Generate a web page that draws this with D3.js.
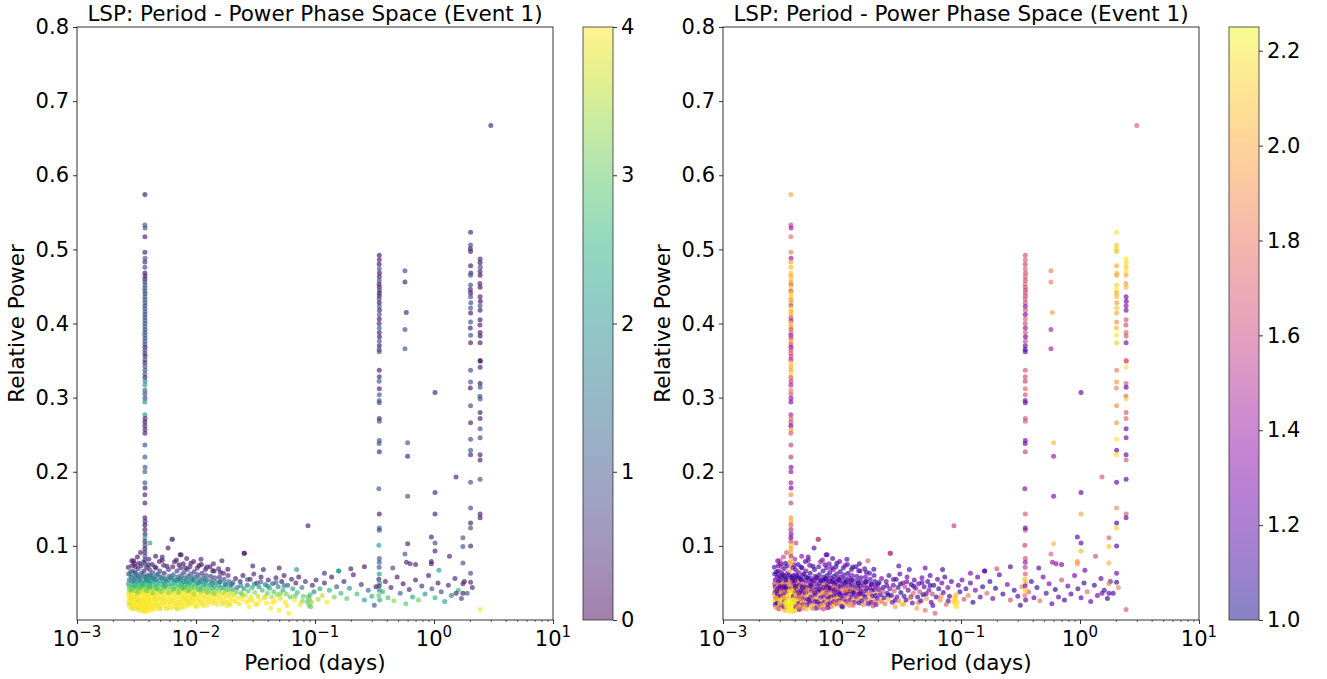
<!DOCTYPE html>
<html><head><meta charset="utf-8">
<script src="https://cdn.jsdelivr.net/npm/d3@7"></script>
<style>body{margin:0;background:#fff;}svg{display:block;font-family:"DejaVu Sans",sans-serif;}</style>
</head><body>
<svg id="c" width="1327" height="679"></svg>
<script>
// ---- DATA: [period (days), relative power, colour value left (0-4), colour value right (1-2.25)] ----
const clusterDense = [
[0.00270,0.071,0.3,1.18],[0.00272,0.062,0.9,1.10],[0.00275,0.054,1.4,1.22],[0.00271,0.049,2.3,1.65],[0.00274,0.045,2.9,1.12],[0.00276,0.041,3.3,1.95],[0.00273,0.037,3.7,1.28],[0.00270,0.033,4.0,2.05],[0.00277,0.029,3.9,1.75],[0.00272,0.025,4.0,2.15],[0.00275,0.021,3.6,1.15],[0.00278,0.017,4.0,1.90],
[0.00288,0.080,0.2,1.25],[0.00291,0.066,0.6,1.08],[0.00285,0.058,1.1,1.30],[0.00293,0.052,1.8,1.14],[0.00289,0.047,2.6,1.80],[0.00296,0.043,3.0,1.20],[0.00290,0.039,3.5,2.00],[0.00287,0.035,3.8,1.10],[0.00294,0.031,4.0,1.70],[0.00292,0.027,4.0,2.20],[0.00286,0.023,3.9,1.05],[0.00298,0.019,4.0,2.10],[0.00295,0.015,3.7,1.60],
[0.00305,0.076,0.4,1.15],[0.00308,0.064,0.2,1.35],[0.00311,0.057,1.0,1.05],[0.00303,0.053,1.6,1.20],[0.00309,0.048,2.4,1.90],[0.00314,0.044,2.8,1.12],[0.00306,0.040,3.4,1.55],[0.00312,0.036,3.9,2.05],[0.00304,0.032,4.0,1.18],[0.00310,0.028,3.8,2.20],[0.00316,0.024,4.0,1.85],[0.00307,0.020,4.0,1.25],[0.00313,0.016,3.9,2.10],
[0.00322,0.085,0.2,1.60],[0.00326,0.069,0.7,1.22],[0.00329,0.059,1.2,1.10],[0.00324,0.051,2.0,1.75],[0.00331,0.046,2.7,1.08],[0.00327,0.042,3.2,1.30],[0.00333,0.038,3.6,1.95],[0.00323,0.034,4.0,1.15],[0.00330,0.030,4.0,2.15],[0.00328,0.026,3.7,1.65],[0.00335,0.022,4.0,2.25],[0.00325,0.018,4.0,1.20],[0.00332,0.013,3.8,2.00],
[0.00342,0.091,0.3,1.70],[0.00345,0.073,0.5,1.12],[0.00348,0.063,1.1,1.28],[0.00341,0.056,1.5,1.05],[0.00350,0.050,2.2,1.85],[0.00346,0.045,3.0,1.20],[0.00352,0.041,3.5,2.10],[0.00343,0.037,3.8,1.40],[0.00349,0.033,4.0,2.20],[0.00355,0.029,4.0,1.95],[0.00344,0.025,4.0,2.25],[0.00351,0.021,3.9,2.15],[0.00347,0.017,4.0,2.05],[0.00353,0.012,4.0,2.20],
[0.00362,0.078,0.8,1.90],[0.00366,0.066,0.4,2.00],[0.00373,0.058,1.3,1.25],[0.00368,0.052,2.1,1.70],[0.00364,0.047,2.9,2.10],[0.00375,0.043,3.3,1.15],[0.00361,0.039,3.7,2.20],[0.00370,0.035,4.0,2.25],[0.00377,0.031,4.0,2.15],[0.00363,0.027,4.0,2.25],[0.00372,0.023,4.0,2.20],[0.00367,0.019,4.0,2.25],[0.00376,0.015,3.9,2.10],[0.00369,0.011,4.0,2.20],
[0.00385,0.071,0.3,1.20],[0.00389,0.060,1.0,1.10],[0.00382,0.054,1.7,1.55],[0.00392,0.049,2.5,1.18],[0.00386,0.044,3.1,1.95],[0.00395,0.040,3.6,2.15],[0.00383,0.036,4.0,2.25],[0.00390,0.032,4.0,1.30],[0.00397,0.028,4.0,2.20],[0.00384,0.024,4.0,2.25],[0.00393,0.020,3.8,2.15],[0.00388,0.016,4.0,2.25],[0.00396,0.012,4.0,2.05],
[0.00402,0.082,0.4,1.45],[0.00406,0.068,0.6,1.08],[0.00410,0.061,1.2,1.25],[0.00404,0.055,1.9,1.12],[0.00412,0.050,2.4,1.80],[0.00408,0.046,2.9,1.20],[0.00415,0.042,3.4,2.00],[0.00403,0.038,3.8,1.10],[0.00411,0.034,4.0,2.15],[0.00418,0.030,4.0,1.65],[0.00405,0.026,4.0,2.25],[0.00414,0.022,3.9,2.10],[0.00409,0.018,4.0,1.22],[0.00417,0.014,4.0,2.20],
[0.00428,0.075,0.3,1.15],[0.00433,0.064,0.9,1.30],[0.00437,0.057,1.4,1.06],[0.00430,0.052,2.2,1.75],[0.00440,0.047,2.7,1.10],[0.00435,0.043,3.2,1.90],[0.00443,0.039,3.7,1.20],[0.00431,0.035,3.9,2.05],[0.00439,0.031,4.0,1.60],[0.00446,0.027,4.0,2.20],[0.00434,0.023,4.0,1.14],[0.00442,0.019,3.9,1.95],[0.00438,0.014,4.0,1.25],
[0.00458,0.086,0.2,1.35],[0.00462,0.070,0.5,1.12],[0.00466,0.060,1.1,1.22],[0.00460,0.054,1.6,1.05],[0.00470,0.049,2.3,1.70],[0.00464,0.045,2.8,1.18],[0.00473,0.041,3.3,2.00],[0.00461,0.037,3.8,1.10],[0.00469,0.033,4.0,1.85],[0.00476,0.029,4.0,1.25],[0.00463,0.025,4.0,2.15],[0.00472,0.021,3.8,1.30],[0.00467,0.016,4.0,1.80],
[0.00492,0.079,0.3,1.10],[0.00497,0.066,0.8,1.28],[0.00502,0.058,1.3,1.08],[0.00495,0.053,2.0,1.20],[0.00506,0.048,2.6,1.65],[0.00499,0.044,3.1,1.12],[0.00510,0.040,3.5,1.95],[0.00494,0.036,4.0,1.15],[0.00504,0.032,4.0,2.10],[0.00513,0.028,3.9,1.30],[0.00498,0.024,4.0,1.75],[0.00508,0.020,4.0,1.10],[0.00501,0.015,3.7,2.05],
[0.00535,0.074,0.4,1.25],[0.00540,0.063,0.3,1.05],[0.00546,0.056,1.0,1.18],[0.00538,0.051,1.8,1.32],[0.00550,0.047,2.5,1.10],[0.00543,0.043,3.0,1.85],[0.00555,0.039,3.6,1.20],[0.00537,0.035,3.9,2.00],[0.00548,0.031,4.0,1.12],[0.00558,0.027,4.0,1.70],[0.00541,0.023,3.8,1.25],[0.00552,0.019,4.0,2.15],
[0.00582,0.097,0.2,1.20],[0.00588,0.068,0.6,1.10],[0.00594,0.059,1.2,1.30],[0.00585,0.054,1.7,1.08],[0.00598,0.049,2.4,1.22],[0.00590,0.045,2.9,1.60],[0.00603,0.041,3.4,1.15],[0.00587,0.037,3.8,1.90],[0.00596,0.033,4.0,1.28],[0.00607,0.029,4.0,2.05],[0.00592,0.025,4.0,1.18],[0.00600,0.021,3.9,1.80],[0.00605,0.016,4.0,1.12],
[0.00632,0.109,0.9,1.12],[0.00638,0.072,0.3,1.22],[0.00644,0.061,0.9,1.06],[0.00635,0.055,1.5,1.35],[0.00650,0.050,2.2,1.12],[0.00641,0.046,2.7,1.20],[0.00656,0.042,3.2,1.75],[0.00637,0.038,3.7,1.10],[0.00647,0.034,4.0,1.95],[0.00660,0.030,4.0,1.25],[0.00643,0.026,3.9,2.10],[0.00653,0.022,4.0,1.15],[0.00648,0.017,4.0,1.65],
[0.00685,0.081,0.2,1.30],[0.00692,0.066,0.7,1.10],[0.00700,0.058,1.2,1.20],[0.00690,0.053,1.9,1.05],[0.00708,0.048,2.5,1.70],[0.00697,0.044,3.0,1.15],[0.00715,0.040,3.5,1.28],[0.00694,0.036,3.9,2.00],[0.00705,0.032,4.0,1.12],[0.00720,0.028,4.0,1.85],[0.00702,0.024,3.8,1.22],[0.00712,0.020,4.0,2.10],[0.00698,0.015,3.7,1.60],
[0.00735,0.088,0.3,1.10],[0.00742,0.070,0.5,1.25],[0.00750,0.060,1.0,1.08],[0.00738,0.054,1.6,1.18],[0.00757,0.049,2.3,1.32],[0.00746,0.045,2.9,1.10],[0.00764,0.041,3.4,1.90],[0.00740,0.037,3.8,1.20],[0.00753,0.033,4.0,1.70],[0.00768,0.029,4.0,1.12],[0.00748,0.025,4.0,2.05],[0.00760,0.021,3.9,1.26],
[0.00780,0.076,0.2,1.20],[0.00790,0.064,0.8,1.05],[0.00798,0.057,1.3,1.22],[0.00785,0.052,2.0,1.12],[0.00806,0.047,2.6,1.75],[0.00794,0.043,3.1,1.18],[0.00815,0.039,3.6,1.30],[0.00788,0.035,4.0,1.95],[0.00802,0.031,4.0,1.10],[0.00820,0.027,3.8,2.15],[0.00796,0.023,4.0,1.24],[0.00810,0.018,4.0,1.80],
[0.00835,0.083,0.3,1.15],[0.00845,0.068,0.6,1.28],[0.00855,0.059,1.1,1.06],[0.00840,0.054,1.7,1.20],[0.00862,0.049,2.4,1.12],[0.00850,0.045,2.9,1.65],[0.00870,0.041,3.5,1.22],[0.00842,0.037,3.9,2.00],[0.00858,0.033,4.0,1.15],[0.00875,0.029,4.0,1.90],[0.00852,0.025,3.9,1.30],[0.00866,0.020,4.0,2.10],
[0.00890,0.072,0.4,1.10],[0.00902,0.062,0.9,1.20],[0.00912,0.056,1.4,1.32],[0.00895,0.051,2.1,1.08],[0.00920,0.046,2.7,1.18],[0.00906,0.042,3.2,1.80],[0.00930,0.038,3.7,1.12],[0.00898,0.034,4.0,1.25],[0.00916,0.030,4.0,2.05],[0.00935,0.026,3.8,1.15],[0.00910,0.022,4.0,1.70],
[0.00955,0.079,0.2,1.25],[0.00965,0.065,0.7,1.10],[0.00978,0.058,1.2,1.18],[0.00960,0.053,1.9,1.05],[0.00988,0.048,2.5,1.30],[0.00972,0.044,3.0,1.12],[0.00998,0.040,3.5,1.95],[0.00962,0.036,3.9,1.20],[0.00982,0.032,4.0,1.60],[0.01005,0.028,4.0,1.15],[0.00975,0.024,4.0,2.10],[0.00992,0.019,3.9,1.28],
[0.01025,0.070,0.3,1.12],[0.01040,0.061,0.8,1.22],[0.01055,0.055,1.3,1.08],[0.01032,0.050,2.0,1.35],[0.01065,0.045,2.6,1.15],[0.01048,0.041,3.1,1.85],[0.01078,0.037,3.6,1.10],[0.01036,0.033,4.0,1.20],[0.01060,0.029,4.0,1.75],[0.01085,0.025,3.8,1.25],[0.01050,0.021,4.0,2.00],
[0.01110,0.075,0.2,1.20],[0.01125,0.063,0.6,1.05],[0.01140,0.057,1.1,1.30],[0.01118,0.052,1.8,1.12],[0.01155,0.047,2.4,1.18],[0.01132,0.043,2.9,1.65],[0.01168,0.039,3.4,1.10],[0.01120,0.035,3.9,1.25],[0.01148,0.031,4.0,1.90],[0.01175,0.027,4.0,1.15],[0.01138,0.023,3.9,1.80],
[0.01200,0.068,0.4,1.15],[0.01218,0.060,0.9,1.28],[0.01235,0.054,1.5,1.06],[0.01210,0.049,2.2,1.20],[0.01250,0.044,2.8,1.12],[0.01228,0.040,3.3,1.95],[0.01265,0.036,3.8,1.22],[0.01215,0.032,4.0,1.10],[0.01245,0.028,4.0,2.05],[0.01275,0.024,3.9,1.30],[0.01238,0.020,4.0,1.70],
[0.01310,0.072,0.3,1.10],[0.01330,0.059,0.7,1.20],[0.01350,0.053,1.2,1.15],[0.01320,0.048,2.0,1.32],[0.01365,0.043,2.6,1.08],[0.01340,0.039,3.2,1.75],[0.01380,0.035,3.7,1.18],[0.01325,0.031,4.0,1.25],[0.01358,0.027,4.0,1.90],[0.01390,0.023,3.8,1.12],
[0.01420,0.066,0.2,1.22],[0.01440,0.057,0.9,1.10],[0.01462,0.051,1.6,1.28],[0.01430,0.046,2.3,1.05],[0.01480,0.042,2.9,1.60],[0.01452,0.038,3.4,1.15],[0.01500,0.034,3.9,1.20],[0.01435,0.030,4.0,2.00],[0.01470,0.026,4.0,1.12],[0.01510,0.021,3.9,1.85],
[0.01550,0.069,0.4,1.15],[0.01575,0.058,0.6,1.25],[0.01600,0.052,1.3,1.08],[0.01560,0.047,2.1,1.20],[0.01620,0.043,2.7,1.35],[0.01590,0.039,3.3,1.10],[0.01645,0.035,3.8,1.95],[0.01570,0.031,4.0,1.18],[0.01610,0.027,4.0,1.70],[0.01660,0.022,3.8,1.12],
[0.01700,0.063,0.3,1.10],[0.01725,0.055,1.0,1.22],[0.01750,0.049,1.8,1.05],[0.01710,0.044,2.5,1.30],[0.01775,0.040,3.1,1.15],[0.01740,0.036,3.6,1.80],[0.01800,0.032,4.0,1.20],[0.01720,0.028,4.0,2.05],[0.01765,0.024,3.9,1.12],[0.01820,0.019,4.0,1.65],
[0.01860,0.060,0.5,1.18],[0.01890,0.052,1.2,1.08],[0.01920,0.046,2.2,1.25],[0.01875,0.041,2.9,1.12],[0.01950,0.037,3.5,1.90],[0.01905,0.033,3.9,1.20],[0.01980,0.029,4.0,1.10],[0.01880,0.025,4.0,1.75],[0.01935,0.021,3.8,1.30]
];
const clusterExtra = [
[0.00280,0.0645,1.6,1.08],[0.00297,0.0595,2.0,1.12],[0.00318,0.0615,1.5,1.05],[0.00336,0.0535,1.9,1.10],[0.00357,0.0605,1.7,1.20],[0.00380,0.0565,2.0,1.08],[0.00399,0.0525,2.2,1.15],[0.00421,0.0585,1.6,1.06],[0.00449,0.0545,1.9,1.12],[0.00479,0.0625,1.4,1.10],[0.00517,0.0565,1.8,1.05],[0.00560,0.0525,2.1,1.18],[0.00612,0.0575,1.7,1.08],[0.00668,0.0535,2.0,1.12],[0.00725,0.0555,1.8,1.06],[0.00825,0.0515,2.2,1.10],[0.00940,0.0545,1.9,1.15],[0.01070,0.0505,2.1,1.08],[0.01190,0.0535,1.7,1.12],[0.01370,0.0495,2.2,1.05],
[0.00283,0.0285,3.9,2.00],[0.00301,0.0225,4.0,2.15],[0.00319,0.0305,4.0,1.95],[0.00338,0.0195,4.0,2.20],[0.00358,0.0245,4.0,2.25],[0.00365,0.0165,4.0,2.25],[0.00379,0.0205,4.0,2.20],[0.00374,0.0135,4.0,2.25],[0.00392,0.0265,4.0,2.10],[0.00424,0.0175,4.0,1.90],[0.00455,0.0285,3.9,1.70],[0.00486,0.0185,4.0,2.05],[0.00527,0.0265,4.0,1.20],[0.00566,0.0155,3.8,1.85],[0.00620,0.0245,4.0,1.15],[0.00675,0.0195,4.0,2.00],[0.00760,0.0165,3.9,1.25],[0.00880,0.0225,4.0,1.80],[0.01010,0.0175,4.0,1.12],[0.01150,0.0195,3.9,1.95],
[0.00284,0.0405,3.0,1.10],[0.00302,0.0455,2.8,1.20],[0.00321,0.0375,3.2,1.65],[0.00339,0.0435,2.9,1.08],[0.00359,0.0475,2.6,1.90],[0.00384,0.0395,3.1,2.10],[0.00407,0.0445,2.7,1.15],[0.00432,0.0365,3.3,1.25],[0.00468,0.0425,2.9,1.10],[0.00505,0.0385,3.2,1.70],[0.00545,0.0455,2.6,1.08],[0.00590,0.0365,3.4,1.20],[0.00646,0.0415,3.0,1.12],[0.00710,0.0375,3.3,1.95],[0.00775,0.0435,2.8,1.10],[0.00860,0.0395,3.1,1.22],[0.00960,0.0345,3.5,1.15],[0.01090,0.0405,3.0,1.85],[0.01240,0.0375,3.2,1.10],[0.01420,0.0355,3.4,1.25],
[0.00292,0.0735,0.3,1.20],[0.00333,0.0765,0.2,1.10],[0.00398,0.0745,0.3,1.35],[0.00452,0.0715,0.4,1.15],[0.00520,0.0805,0.2,1.25],[0.00570,0.0725,0.3,1.08],[0.00660,0.0785,0.3,1.40],[0.00720,0.0745,0.2,1.12],[0.00815,0.0705,0.4,1.20],[0.00905,0.0765,0.3,1.05],[0.01060,0.0735,0.2,1.30],[0.01230,0.0715,0.3,1.10],[0.01380,0.0665,0.4,1.22],[0.01600,0.0645,0.3,1.15],[0.01850,0.0685,0.2,1.08],
[0.01580,0.0515,1.5,1.10],[0.01780,0.0475,1.8,1.18],[0.02050,0.0505,1.4,1.05],[0.02380,0.0465,1.9,1.12],[0.02700,0.0545,1.2,1.20],[0.03100,0.0485,1.6,1.08],[0.03500,0.0515,1.3,1.25],[0.04000,0.0455,1.9,1.10],[0.04700,0.0505,1.5,1.15],[0.05500,0.0465,1.7,1.05],
[0.02150,0.0245,4.0,1.85],[0.02450,0.0335,3.5,1.12],[0.02800,0.0265,3.9,1.20],[0.03300,0.0215,4.0,2.00],[0.03800,0.0315,3.6,1.10],[0.04400,0.0235,4.0,1.75],[0.05100,0.0355,3.2,1.22],[0.05800,0.0195,3.9,1.15],[0.06800,0.0325,3.0,1.90],[0.07800,0.0255,3.3,1.12]
];
const clusterTail = [
[0.0200,0.048,1.0,1.15],[0.0205,0.041,2.6,1.22],[0.0210,0.034,3.6,1.10],[0.0208,0.026,4.0,1.95],[0.0215,0.056,0.3,1.28],[0.0220,0.038,3.2,1.65],[0.0225,0.030,4.0,1.12],[0.0222,0.044,1.5,1.05],[0.0230,0.022,3.9,1.80],[0.0235,0.052,0.4,1.20],
[0.0240,0.036,3.0,1.10],[0.0245,0.028,4.0,2.05],[0.0248,0.060,0.2,1.15],[0.0252,0.042,2.2,1.30],[0.0255,0.090,0.2,1.55],[0.0260,0.033,3.7,1.08],[0.0265,0.024,4.0,1.25],[0.0270,0.047,1.2,1.18],[0.0275,0.039,2.9,1.70],[0.0280,0.018,4.0,1.95],
[0.0285,0.055,0.3,1.10],[0.0290,0.031,3.8,1.22],[0.0296,0.044,2.5,1.12],[0.0300,0.026,4.0,1.85],[0.0306,0.062,0.4,1.20],[0.0312,0.037,3.3,1.05],[0.0318,0.021,4.0,2.10],[0.0325,0.050,0.8,1.30],[0.0332,0.032,3.6,1.15],[0.0338,0.045,2.0,1.60],
[0.0345,0.027,4.0,1.10],[0.0352,0.058,0.2,1.25],[0.0360,0.040,2.8,1.18],[0.0368,0.068,0.3,1.12],[0.0375,0.030,3.9,1.90],[0.0382,0.048,1.5,1.08],[0.0390,0.023,4.0,1.22],[0.0398,0.036,3.1,1.75],[0.0405,0.054,0.3,1.15],[0.0415,0.043,2.4,1.30],
[0.0425,0.016,4.0,2.00],[0.0432,0.031,3.5,1.10],[0.0440,0.049,1.0,1.20],[0.0450,0.038,2.9,1.65],[0.0460,0.026,4.0,1.12],[0.0470,0.057,0.4,1.25],[0.0480,0.034,3.3,1.05],[0.0490,0.045,1.8,1.18],[0.0500,0.013,4.0,1.80],[0.0512,0.029,3.8,1.95],
[0.0525,0.052,0.2,1.10],[0.0538,0.040,2.6,1.30],[0.0550,0.060,0.3,1.15],[0.0562,0.024,4.0,1.22],[0.0575,0.035,3.2,1.60],[0.0590,0.047,1.2,1.08],[0.0605,0.009,4.0,1.70],[0.0620,0.031,3.0,1.12],[0.0635,0.055,0.4,1.20],[0.0650,0.042,2.3,1.05],
[0.0670,0.027,4.0,1.90],[0.0690,0.050,0.3,1.25],[0.0710,0.037,2.8,1.18],[0.0730,0.058,0.2,1.10],[0.0750,0.021,3.9,1.75],[0.0775,0.044,1.6,1.30],[0.0800,0.032,3.1,1.12],[0.0830,0.052,0.5,1.15],[0.0860,0.025,3.0,2.10],[0.0880,0.031,2.9,2.15],
[0.0890,0.020,3.1,2.20],[0.0900,0.028,3.2,2.10],[0.0910,0.034,2.8,2.05],[0.0920,0.018,3.0,2.20],[0.0930,0.024,3.3,2.15],[0.0950,0.047,0.3,1.20],[0.0980,0.038,1.9,1.10],[0.1020,0.054,0.4,1.25],[0.1060,0.028,3.5,1.65],[0.1100,0.042,2.4,1.12],
[0.1150,0.033,3.6,1.85],[0.1200,0.050,0.3,1.18],[0.1260,0.024,4.0,1.08],[0.1320,0.040,2.6,1.30],[0.1380,0.058,0.2,1.15],[0.1450,0.031,3.2,1.22],[0.1520,0.045,1.1,1.10],[0.1580,0.066,2.2,1.20],[0.1650,0.036,2.7,1.75],[0.1750,0.052,0.4,1.12],
[0.1850,0.029,3.0,1.25],[0.1950,0.043,2.1,1.05],[0.2100,0.061,0.3,1.18],[0.2250,0.035,2.8,1.10],[0.2450,0.048,0.5,1.30],[0.2600,0.027,2.2,1.65],[0.2800,0.040,1.4,1.12],[0.3000,0.032,2.5,1.20],[0.3150,0.020,1.0,1.08],[0.3250,0.045,0.3,1.90],
[0.3700,0.038,2.6,1.70],[0.3900,0.052,0.3,1.15],[0.4100,0.030,2.8,1.22],[0.4350,0.044,0.4,1.10],[0.4600,0.026,3.3,1.80],[0.4900,0.058,0.3,1.25],[0.5200,0.036,1.2,1.12],[0.5500,0.049,0.2,1.30],[0.5800,0.022,2.9,1.18],[0.6200,0.041,0.4,1.05],
[0.6600,0.031,2.4,1.20],[0.7000,0.054,0.3,1.65],[0.7400,0.027,3.1,1.10],[0.7900,0.046,0.5,1.25],[0.8400,0.035,2.2,1.15],[0.9000,0.060,0.3,1.30],[0.9600,0.042,1.0,1.12],[1.0200,0.030,2.6,1.22],[1.0800,0.050,0.3,1.08],[1.1500,0.038,0.9,1.75],
[1.2300,0.025,2.3,1.18],[1.3200,0.047,0.4,1.10],[1.4000,0.033,1.5,1.25],[1.5000,0.056,0.3,1.20],[1.6000,0.040,2.5,1.12],[1.7000,0.029,0.8,1.05],[1.8000,0.052,0.2,1.30],[1.9000,0.036,1.2,1.15],[2.1000,0.044,0.4,1.85],[2.4400,0.014,4.0,1.70]
];
const spikeShort = [
[0.00372,0.574,0.2,2.00],[0.00372,0.533,1.0,1.60],[0.00373,0.529,1.1,1.40],[0.00372,0.517,0.3,1.80],[0.00372,0.496,0.3,1.85],[0.00373,0.488,1.0,1.40],[0.00372,0.483,0.4,2.00],[0.00372,0.476,0.9,2.05],
[0.00372,0.468,0.2,2.10],[0.00373,0.464,0.3,1.95],[0.00372,0.460,0.3,2.15],[0.00372,0.456,0.9,2.00],[0.00373,0.452,1.0,1.70],[0.00372,0.448,1.1,2.20],[0.00372,0.444,1.0,1.65],[0.00373,0.440,0.9,2.10],[0.00372,0.436,1.2,2.15],[0.00372,0.432,1.0,1.90],[0.00373,0.428,1.1,2.00],[0.00372,0.424,0.9,1.60],[0.00372,0.420,1.0,2.20],[0.00373,0.416,1.2,1.95],[0.00372,0.412,1.0,2.10],[0.00372,0.408,0.9,1.70],[0.00373,0.404,1.1,1.45],[0.00372,0.400,1.0,2.05],[0.00372,0.396,1.2,1.95],[0.00373,0.392,1.0,1.65],[0.00372,0.388,0.9,1.85],[0.00372,0.384,1.1,1.40],[0.00373,0.380,1.0,1.60],[0.00372,0.376,1.2,2.00],[0.00372,0.372,1.0,1.70],[0.00373,0.368,0.3,1.35],[0.00372,0.364,1.1,1.65],[0.00372,0.360,0.9,1.75],[0.00373,0.356,0.3,1.60],[0.00372,0.351,1.0,1.40],
[0.00372,0.347,0.4,2.10],[0.00372,0.342,1.1,2.00],[0.00373,0.337,0.9,1.95],[0.00372,0.332,1.2,2.15],[0.00372,0.327,0.3,1.70],[0.00373,0.322,2.0,1.60],[0.00372,0.317,2.2,1.45],
[0.00372,0.310,1.1,1.85],[0.00372,0.305,1.0,1.70],[0.00373,0.299,0.9,1.40],[0.00372,0.294,2.0,1.35],
[0.00372,0.277,2.1,1.45],[0.00373,0.272,0.3,1.75],[0.00372,0.267,0.2,1.65],[0.00372,0.262,0.3,1.25],[0.00373,0.257,0.4,1.95],[0.00372,0.252,0.3,1.70],
[0.00372,0.236,1.0,1.60],[0.00372,0.220,1.1,1.55],[0.00373,0.206,1.0,1.35],[0.00372,0.200,1.2,1.40],[0.00372,0.185,1.0,1.45],[0.00373,0.178,0.3,1.30],[0.00372,0.169,0.3,1.90],[0.00372,0.158,0.3,1.60],
[0.00372,0.138,0.3,1.95],[0.00373,0.133,0.4,2.00],[0.00372,0.128,0.2,1.70],[0.00372,0.122,0.3,1.50],[0.00373,0.116,0.4,1.35],[0.00372,0.111,2.1,1.25],[0.00372,0.106,0.3,1.60],[0.00373,0.101,0.9,2.05],[0.00372,0.096,0.3,1.95],[0.00372,0.091,0.4,2.00],[0.00373,0.086,1.0,1.45],[0.00372,0.081,0.4,2.10],[0.00372,0.076,1.1,2.00]
];
const lineThirdDay = [
[0.347,0.492,0.2,1.65],[0.347,0.486,0.3,1.70],[0.346,0.480,0.2,1.60],[0.347,0.474,1.0,1.75],[0.348,0.468,0.2,1.65],[0.347,0.463,0.3,1.70],[0.347,0.458,0.9,1.62],[0.346,0.453,0.2,1.75],[0.347,0.449,0.3,1.68],[0.348,0.445,1.0,1.60],[0.347,0.441,0.2,1.72],[0.347,0.437,0.3,1.65],[0.346,0.433,1.0,1.70],[0.347,0.428,0.2,1.62],[0.347,0.423,1.1,1.35],[0.348,0.418,0.3,1.68],[0.347,0.412,1.0,1.30],[0.347,0.406,0.2,1.72],[0.346,0.400,0.3,1.65],[0.347,0.394,1.0,1.40],[0.347,0.388,0.3,1.70],[0.348,0.382,0.2,1.30],[0.347,0.376,1.0,1.62],[0.347,0.370,0.2,1.25],[0.346,0.365,1.0,1.10],[0.347,0.362,0.9,1.20],
[0.347,0.337,0.3,1.70],[0.347,0.328,0.4,1.65],[0.346,0.322,1.0,1.60],[0.347,0.312,0.3,1.72],[0.347,0.304,1.0,1.68],[0.346,0.296,1.1,1.30],[0.347,0.293,0.9,1.25],
[0.347,0.272,0.3,1.65],[0.347,0.268,1.0,1.70],[0.347,0.242,1.0,1.30],[0.346,0.238,0.9,1.25],[0.347,0.227,0.3,1.60],
[0.344,0.177,1.0,1.35],[0.347,0.143,0.3,1.70],[0.347,0.121,0.9,1.65],[0.344,0.101,2.3,1.60],[0.347,0.083,1.0,1.65],[0.347,0.078,1.1,1.40],[0.346,0.071,1.0,1.55],[0.347,0.062,2.2,1.70],[0.344,0.055,0.3,2.05],[0.349,0.050,2.4,1.95],[0.346,0.046,0.3,1.30],[0.347,0.040,2.0,2.10],[0.344,0.033,3.0,1.80],[0.349,0.027,2.5,1.20]
];
const lineTwoDay = [
[2.03,0.523,0.3,2.20],[2.03,0.506,0.9,2.10],[2.02,0.501,0.3,2.15],[2.03,0.497,0.3,2.05],[2.03,0.478,0.2,2.00],[2.04,0.468,0.3,2.10],[2.03,0.465,1.0,1.95],[2.03,0.452,0.9,2.15],[2.02,0.446,0.3,2.20],[2.03,0.441,0.2,2.00],[2.03,0.436,1.0,2.05],[2.04,0.428,0.9,1.95],[2.03,0.421,1.0,2.10],[2.03,0.414,0.3,2.00],[2.03,0.402,1.0,1.90],[2.02,0.394,0.3,2.05],[2.03,0.384,1.0,2.20],[2.03,0.374,0.3,2.10],[2.03,0.337,0.9,1.85],[2.03,0.321,1.0,1.95],[2.02,0.313,0.3,1.85],[2.03,0.289,0.9,1.90],[2.03,0.266,0.3,1.95],[2.03,0.244,0.9,2.20],[2.03,0.229,1.0,1.20],[2.03,0.223,0.3,2.15],[2.03,0.186,1.0,1.20],[2.03,0.151,0.9,1.90],[2.03,0.131,0.3,1.15],[2.03,0.124,1.0,2.10],[2.03,0.100,0.3,1.20],[2.03,0.063,0.9,1.25],[2.03,0.051,0.3,1.10]
];
const lineTwoHalfDay = [
[2.44,0.487,0.3,2.20],[2.44,0.482,0.2,2.15],[2.45,0.476,0.9,2.10],[2.44,0.470,0.3,2.20],[2.44,0.465,0.2,2.00],[2.43,0.454,0.3,1.95],[2.44,0.449,0.2,2.05],[2.44,0.436,0.3,1.30],[2.45,0.430,0.2,1.25],[2.44,0.424,0.9,1.35],[2.44,0.418,0.3,1.30],[2.44,0.405,0.2,1.70],[2.43,0.398,0.3,1.65],[2.44,0.388,0.3,1.75],[2.44,0.383,0.2,1.70],[2.44,0.374,0.3,1.30],[2.44,0.350,0.3,1.75],[2.45,0.349,0.2,1.70],[2.44,0.341,0.3,2.20],[2.44,0.319,0.2,1.70],[2.44,0.314,1.0,1.25],[2.43,0.302,0.9,1.75],[2.44,0.298,1.0,2.15],[2.44,0.280,0.3,1.70],[2.44,0.272,0.3,1.75],[2.44,0.258,1.0,1.25],[2.44,0.246,0.9,1.30],[2.44,0.223,0.3,1.25],[2.44,0.216,0.3,1.70],[2.44,0.190,0.9,1.20],[2.44,0.143,0.3,1.70],[2.44,0.138,0.2,1.25]
];
const scattered = [
[3.00,0.667,0.3,1.70],
[0.57,0.471,0.9,1.85],[0.57,0.456,0.3,1.85],[0.585,0.415,0.3,2.00],[0.57,0.392,1.0,1.45],[0.57,0.366,1.0,1.45],[0.60,0.239,1.0,2.05],[0.60,0.221,0.3,1.40],[0.60,0.167,1.0,1.30],[0.60,0.103,0.3,2.05],
[1.02,0.307,0.3,1.20],[1.53,0.193,0.3,1.70],[1.02,0.172,0.3,1.20],[1.02,0.143,0.3,2.00],[0.95,0.112,0.3,1.20],[1.02,0.104,0.9,1.25],[1.02,0.093,0.3,2.05],
[0.57,0.089,1.0,1.75],[0.587,0.078,0.3,1.40],[0.63,0.076,0.3,1.35],[0.70,0.075,0.3,1.30],[0.95,0.079,0.3,1.90],[0.95,0.076,0.3,1.95],[1.35,0.086,0.3,1.65],[1.75,0.111,1.0,1.75],[1.75,0.099,1.0,2.10],[1.75,0.077,1.0,2.05],[1.75,0.049,0.3,1.85],[1.53,0.036,0.3,1.25],[1.75,0.036,0.3,1.15],[1.10,0.067,2.2,1.25],[0.45,0.070,0.9,1.20],[0.347,0.124,1.0,1.20],
[0.0041,0.104,2.3,1.60],[0.0063,0.109,1.0,1.75],[0.0254,0.090,0.3,1.55],[0.0873,0.127,0.3,1.55],[0.0165,0.080,0.3,1.70],[0.158,0.066,2.2,1.25],[0.0030,0.080,0.2,1.50],[0.0031,0.072,0.3,1.45],[0.0052,0.085,0.4,1.20],[0.0075,0.088,0.3,1.30],[0.0110,0.082,0.3,1.15],[0.0140,0.076,0.4,1.10],[0.0300,0.073,0.3,1.20],[0.0500,0.070,0.3,1.25],[0.0700,0.068,2.2,1.10],[0.1200,0.063,0.4,1.30],[0.2000,0.069,0.3,1.65],[0.2600,0.072,0.2,1.15]
];
const xTickExps = [-3,-2,-1,0,1];
const yTicks = [0.1,0.2,0.3,0.4,0.5,0.6,0.7,0.8];
const cbTicksLeft = [0,1,2,3,4];
const cbTicksRight = [1.0,1.2,1.4,1.6,1.8,2.0,2.2];
const titleText = "LSP: Period - Power Phase Space (Event 1)";
const xLabelText = "Period (days)";
const yLabelText = "Relative Power";

// ---- DRAW ----
const points = [].concat(clusterDense, clusterExtra, clusterTail, spikeShort, lineThirdDay, lineTwoDay, lineTwoHalfDay, scattered);
const svg = d3.select("#c");
const panels = [
  {ox:0, idx:2, domain:[0,4], interp:d3.interpolateViridis, ticks:cbTicksLeft, fmt:d3.format("d")},
  {ox:646, idx:3, domain:[1,2.25], interp:d3.interpolatePlasma, ticks:cbTicksRight, fmt:d3.format(".1f")}
];
const FS = 21, LFS = 21.5;
panels.forEach((P, pi) => {
  const L = 77 + P.ox, R = 553 + P.ox, T = 27, B = 620;
  const x = d3.scaleLog().domain([1e-3, 10]).range([L, R]);
  const y = d3.scaleLinear().domain([0, 0.8]).range([B, T]);
  const c = d3.scaleSequential(P.interp).domain(P.domain);
  const g = svg.append("g");
  const clipId = "clip" + pi;
  g.append("clipPath").attr("id", clipId).append("rect").attr("x", L).attr("y", T).attr("width", R - L).attr("height", B - T);
  g.append("g").attr("clip-path", `url(#${clipId})`).selectAll("circle").data(points).join("circle")
    .attr("cx", d => x(d[0])).attr("cy", d => y(d[1])).attr("r", 2.5)
    .attr("fill", d => c(d[P.idx])).attr("fill-opacity", 0.65);
  g.append("rect").attr("x", L).attr("y", T).attr("width", R - L).attr("height", B - T)
    .attr("fill", "none").attr("stroke", "#000").attr("stroke-width", 0.8);
  const majors = xTickExps.map(e => Math.pow(10, e));
  const minors = [];
  for (let e = -3; e < 1; e++) for (let m = 2; m <= 9; m++) minors.push(m * Math.pow(10, e));
  const gx = g.append("g").attr("transform", `translate(0,${B})`)
    .call(d3.axisBottom(x).tickValues(majors).tickFormat(() => "").tickSize(4).tickSizeOuter(0));
  gx.select(".domain").remove();
  gx.selectAll("line").attr("stroke-width", 0.8);
  const gxm = g.append("g").attr("transform", `translate(0,${B})`)
    .call(d3.axisBottom(x).tickValues(minors).tickFormat(() => "").tickSize(2).tickSizeOuter(0));
  gxm.select(".domain").remove();
  gxm.selectAll("line").attr("stroke-width", 0.6);
  xTickExps.forEach(e => {
    const t = g.append("text").attr("x", x(Math.pow(10, e))).attr("y", B + 26).attr("text-anchor", "middle")
      .attr("font-size", FS).attr("fill", "#000");
    t.append("tspan").text("10");
    t.append("tspan").attr("dy", -9).attr("font-size", 15).text(e < 0 ? "\u2212" + (-e) : String(e));
  });
  const gy = g.append("g").attr("transform", `translate(${L},0)`)
    .call(d3.axisLeft(y).tickValues(yTicks).tickFormat(d3.format(".1f")).tickSize(4).tickPadding(4).tickSizeOuter(0));
  gy.select(".domain").remove();
  gy.selectAll("line").attr("stroke-width", 0.8);
  gy.selectAll("text").attr("font-size", FS).attr("font-family", "DejaVu Sans").attr("fill", "#000");
  g.append("text").attr("x", (L + R) / 2).attr("y", 21).attr("text-anchor", "middle").attr("font-size", LFS).text(titleText);
  g.append("text").attr("x", (L + R) / 2).attr("y", 670).attr("text-anchor", "middle").attr("font-size", LFS).text(xLabelText);
  g.append("text").attr("transform", `translate(${L - 53},${(T + B) / 2}) rotate(-90)`).attr("text-anchor", "middle").attr("font-size", LFS).text(yLabelText);
  const cx0 = 583 + P.ox, cw = 30;
  const cy = d3.scaleLinear().domain(P.domain).range([B, T]);
  const gradId = "grad" + pi;
  const grad = svg.append("defs").append("linearGradient").attr("id", gradId).attr("x1", 0).attr("y1", 1).attr("x2", 0).attr("y2", 0);
  d3.range(0, 1.0001, 0.05).forEach(t => grad.append("stop").attr("offset", t).attr("stop-color", P.interp(t)).attr("stop-opacity", 0.5));
  g.append("rect").attr("x", cx0).attr("y", T).attr("width", cw).attr("height", B - T).attr("fill", "#fff");
  g.append("rect").attr("x", cx0).attr("y", T).attr("width", cw).attr("height", B - T).attr("fill", `url(#${gradId})`)
    .attr("stroke", "#333").attr("stroke-width", 0.8);
  const gc = g.append("g").attr("transform", `translate(${cx0 + cw},0)`)
    .call(d3.axisRight(cy).tickValues(P.ticks).tickFormat(P.fmt).tickSize(4).tickPadding(4).tickSizeOuter(0));
  gc.select(".domain").remove();
  gc.selectAll("line").attr("stroke-width", 0.8);
  gc.selectAll("text").attr("font-size", FS).attr("font-family", "DejaVu Sans").attr("fill", "#000");
});
</script>
</body></html>
